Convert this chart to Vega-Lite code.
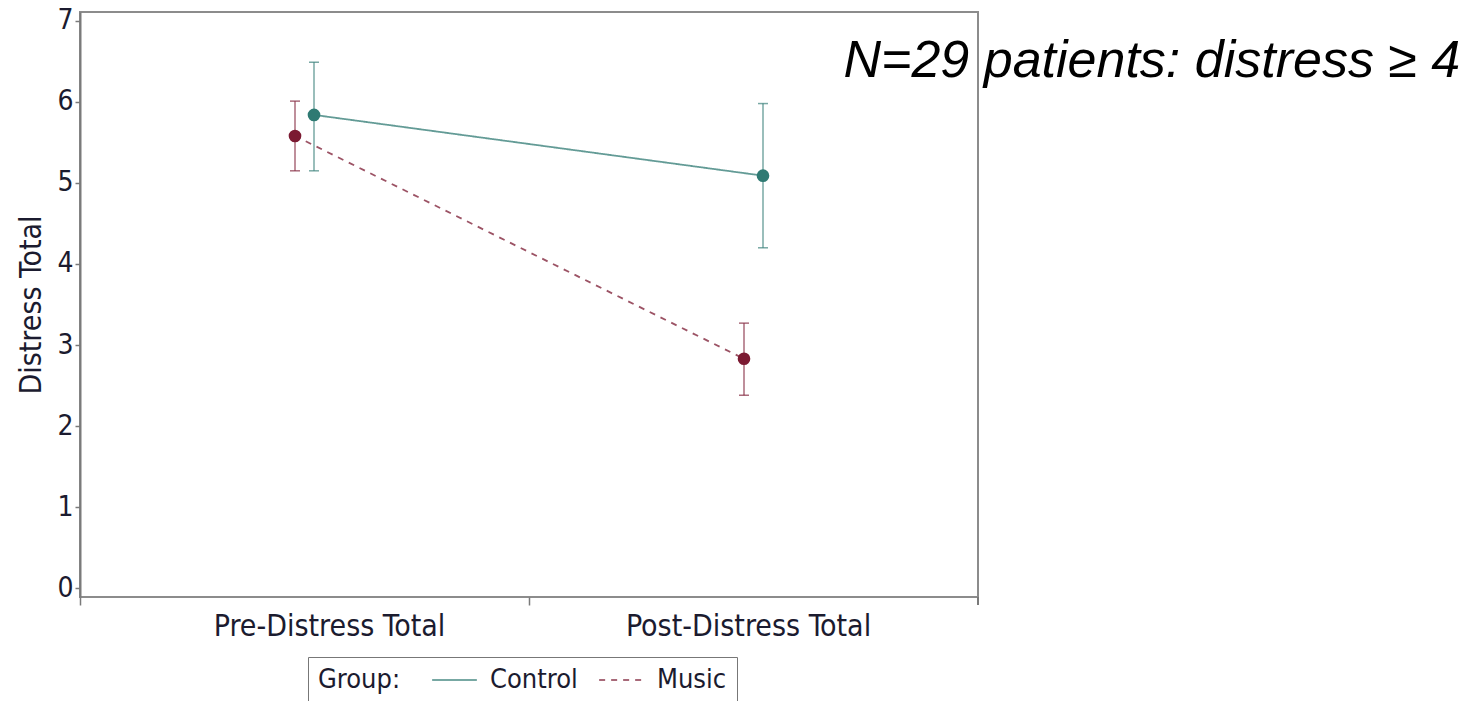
{
  "$schema": "https://vega.github.io/schema/vega-lite/v6.json",
  "width": 898,
  "height": 585,
  "autosize": {"type": "none"},
  "padding": {"left": 80, "top": 12, "right": 503, "bottom": 104},
  "background": "white",
  "config": {
    "view": {"stroke": "#8c8c8c", "strokeWidth": 2},
    "font": "DejaVu Sans Condensed",
    "axis": {"labelColor": "#1b1b2f", "titleColor": "#1b1b2f", "domainColor": "#7a7a7a", "tickColor": "#7a7a7a", "domainWidth": 2, "tickWidth": 1.5, "labelLimit": 0}
  },
  "data": {
    "values": [
      {"time": "Pre-Distress Total", "group": "Control", "mean": 5.84, "lower": 5.15, "upper": 6.49},
      {"time": "Pre-Distress Total", "group": "Music", "mean": 5.58, "lower": 5.15, "upper": 6.01},
      {"time": "Post-Distress Total", "group": "Control", "mean": 5.09, "lower": 4.2, "upper": 5.98},
      {"time": "Post-Distress Total", "group": "Music", "mean": 2.83, "lower": 2.38, "upper": 3.27}
    ]
  },
  "encoding": {
    "x": {
      "field": "time", "type": "nominal",
      "sort": ["Pre-Distress Total", "Post-Distress Total"],
      "scale": {"type": "band", "paddingInner": 0, "paddingOuter": 0},
      "axis": {"title": null, "labelAngle": 0, "labelFontSize": 30, "labelPadding": 6, "bandPosition": 0, "tickSize": 8, "domain": false, "grid": false,
        "labelOffset": {"condition": {"test": "datum.value === 'Pre-Distress Total'", "value": 25}, "value": -5}}
    },
    "xOffset": {
      "field": "group", "type": "nominal",
      "sort": ["Music", "Control"],
      "scale": {"type": "point", "padding": 0, "range": [215, 234]}
    },
    "color": {
      "field": "group", "type": "nominal",
      "scale": {"domain": ["Control", "Music"], "range": ["#2f7a73", "#7b1a32"]},
      "legend": {
        "title": "Group:", "orient": "none", "legendX": 228, "legendY": 645,
        "direction": "horizontal", "titleOrient": "left", "titleFontSize": 27, "titleFontWeight": "normal", "titleColor": "#1b1b2f",
        "labelFontSize": 27, "labelColor": "#1b1b2f", "symbolType": "stroke", "symbolSize": 2000, "symbolStrokeWidth": 2,
        "strokeColor": "#777777", "padding": 10, "columnPadding": 20, "titlePadding": 30, "labelOffset": 12, "clipHeight": 26
      }
    }
  },
  "layer": [
    {
      "mark": {"type": "rule", "strokeWidth": 1.5, "opacity": 0.65},
      "encoding": {
        "y": {"field": "lower", "type": "quantitative"},
        "y2": {"field": "upper"}
      }
    },
    {
      "mark": {"type": "tick", "size": 10, "thickness": 1.5, "opacity": 0.65},
      "encoding": {
        "y": {"field": "upper", "type": "quantitative"}
      }
    },
    {
      "mark": {"type": "tick", "size": 10, "thickness": 1.5, "opacity": 0.65},
      "encoding": {
        "y": {"field": "lower", "type": "quantitative"}
      }
    },
    {
      "mark": {"type": "line", "strokeWidth": 1.8, "strokeOpacity": 0.75},
      "encoding": {
        "y": {
          "field": "mean", "type": "quantitative",
          "scale": {"domain": [-0.11, 7.11], "nice": false, "zero": false},
          "axis": {"title": "Distress Total", "titleFontSize": 30, "titleFontWeight": "normal", "titlePadding": 10, "values": [0, 1, 2, 3, 4, 5, 6, 7], "format": "d", "labelFontSize": 28, "labelPadding": 2, "tickSize": 5, "grid": false}
        },
        "strokeDash": {
          "field": "group", "type": "nominal",
          "scale": {"domain": ["Control", "Music"], "range": [[1, 0], [6, 6]]},
          "legend": {"title": "Group:"}
        }
      }
    },
    {
      "mark": {"type": "point", "filled": true, "size": 160, "opacity": 1},
      "encoding": {
        "y": {"field": "mean", "type": "quantitative"}
      }
    },
    {
      "mark": {"type": "rule", "color": "#7a7a7a", "strokeWidth": 1.5, "clip": false},
      "encoding": {
        "x": {"datum": "Post-Distress Total", "bandPosition": 1},
        "xOffset": null,
        "color": null,
        "y": {"datum": -0.11},
        "y2": {"datum": -0.21}
      }
    },
    {
      "data": {"values": [{"label": "N=29 patients: distress ≥ 4", "time": "Post-Distress Total", "yv": 6.31}]},
      "mark": {"type": "text", "align": "left", "baseline": "alphabetic", "font": "Liberation Sans", "fontStyle": "italic", "fontSize": 52, "color": "black", "dx": 90},
      "encoding": {
        "x": {"field": "time", "type": "nominal"},
        "xOffset": null,
        "color": null,
        "y": {"field": "yv", "type": "quantitative"},
        "text": {"field": "label"}
      }
    }
  ]
}
